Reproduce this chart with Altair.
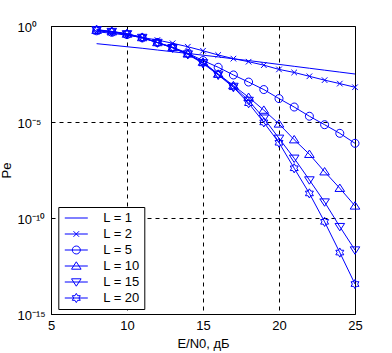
import altair as alt
import pandas as pd

# E/N0, dB
snr_db = list(range(8, 26))
series_names = ["L = 1", "L = 2", "L = 5", "L = 10", "L = 15", "L = 20"]

# log10(Pe), one value per E/N0 point
log_pe_L1 = [-0.92, -1.00, -1.08, -1.16, -1.25, -1.34, -1.43, -1.52, -1.61, -1.71,
             -1.80, -1.90, -2.00, -2.10, -2.20, -2.30, -2.40, -2.50]
log_pe_L2 = [-0.30, -0.38, -0.48, -0.60, -0.73, -0.90, -1.08, -1.29, -1.51, -1.70,
             -1.86, -2.04, -2.26, -2.42, -2.62, -2.82, -3.00, -3.19]
log_pe_L5 = [-0.25, -0.33, -0.45, -0.62, -0.86, -1.10, -1.42, -1.80, -2.15, -2.55,
             -2.92, -3.31, -3.78, -4.22, -4.70, -5.14, -5.59, -6.11]
log_pe_L10 = [-0.22, -0.30, -0.42, -0.60, -0.86, -1.12, -1.45, -1.88, -2.50, -3.10,
              -3.71, -4.38, -5.10, -5.92, -6.68, -7.59, -8.45, -9.37]
log_pe_L15 = [-0.20, -0.29, -0.41, -0.60, -0.86, -1.13, -1.46, -1.92, -2.52, -3.15,
              -3.88, -4.80, -5.85, -6.89, -8.02, -9.17, -10.45, -11.67]
log_pe_L20 = [-0.19, -0.28, -0.40, -0.60, -0.87, -1.14, -1.48, -1.95, -2.55, -3.19,
              -4.02, -5.02, -6.08, -7.41, -8.72, -10.20, -11.80, -13.44]

y_tick_values = [1e-15, 1e-10, 1e-5, 1]
x_tick_values = [5, 10, 15, 20, 25]

all_series = [log_pe_L1, log_pe_L2, log_pe_L5, log_pe_L10, log_pe_L15, log_pe_L20]
rows = []
for name, vals in zip(series_names, all_series):
    for x, v in zip(snr_db, vals):
        rows.append({"snr": x, "pe": 10 ** v, "L": name})
df = pd.DataFrame(rows)

BLUE = "#0000ff"
FONT = "Liberation Sans"

HEX = [(0, -1.15), (0.332, -0.575), (0.996, -0.575), (0.664, 0), (0.996, 0.575), (0.332, 0.575),
       (0, 1.15), (-0.332, 0.575), (-0.996, 0.575), (-0.664, 0), (-0.996, -0.575), (-0.332, -0.575)]

# marker paths for the plot (unit scale = 4 px)
plot_paths = [
    "M-1,0L1,0",
    "M-0.7,-0.7L0.7,0.7M-0.7,0.7L0.7,-0.7",
    "M-1,0A1,1,0,1,1,1,0A1,1,0,1,1,-1,0Z",
    "M0,-1.05L1.2,0.8L-1.2,0.8Z",
    "M0,1.05L1.2,-0.8L-1.2,-0.8Z",
    "M" + "L".join(f"{a},{b}" for a, b in HEX) + "Z",
]
# legend symbols: line sample + marker (unit scale = 6.5 px)
k = 4 / 6.5
def sc(v):
    return round(v * k, 3)
line_seg = "M-1.77,0L1.77,0"
legend_paths = [
    line_seg,
    line_seg + f"M{-sc(0.7)},{-sc(0.7)}L{sc(0.7)},{sc(0.7)}M{-sc(0.7)},{sc(0.7)}L{sc(0.7)},{-sc(0.7)}",
    line_seg + f"M{-sc(1)},0A{sc(1)},{sc(1)},0,1,1,{sc(1)},0A{sc(1)},{sc(1)},0,1,1,{-sc(1)},0Z",
    line_seg + f"M0,{-sc(1.05)}L{sc(1.2)},{sc(0.8)}L{-sc(1.2)},{sc(0.8)}Z",
    line_seg + f"M0,{sc(1.05)}L{sc(1.2)},{-sc(0.8)}L{-sc(1.2)},{-sc(0.8)}Z",
    line_seg + "M" + "L".join(f"{sc(a)},{sc(b)}" for a, b in HEX) + "Z",
]

x_enc = alt.X(
    "snr:Q",
    scale=alt.Scale(domain=[5, 25], nice=False, zero=False),
    axis=alt.Axis(
        values=x_tick_values, title="E/N0, дБ", labelFlush=False,
        labelPadding=5, titleY=33, titleBaseline="alphabetic",
    ),
)
y_enc = alt.Y(
    "pe:Q",
    scale=alt.Scale(type="log", domain=[1e-15, 1], nice=False),
    axis=alt.Axis(
        values=y_tick_values, title="Pe",
        labelExpr="datum.value >= 0.5 ? '10\u2070' : datum.value >= 1e-6 ? '10\u207b\u2075' : datum.value >= 1e-11 ? '10\u207b\u00b9\u2070' : '10\u207b\u00b9\u2075'",
        labelAlign="left", labelPadding=34, labelOffset=1, labelBaseline="middle",
        titleX=-41, titleY=144, titleAngle=270, titleAlign="center", titleBaseline="alphabetic",
    ),
)

base = alt.Chart(df)

lines = base.mark_line(color=BLUE, strokeWidth=1).encode(
    x=x_enc, y=y_enc, detail="L:N"
)

points = base.transform_filter("datum.L != 'L = 1'").mark_point(
    filled=False, color=BLUE, strokeWidth=1, size=64, opacity=1
).encode(
    x=x_enc, y=y_enc,
    shape=alt.Shape("L:N", scale=alt.Scale(domain=series_names, range=plot_paths), legend=None),
)

legend_layer = base.transform_filter("false").mark_point(
    filled=False, color=BLUE, strokeWidth=1, size=169, opacity=1
).encode(
    x=x_enc, y=y_enc,
    shape=alt.Shape(
        "L:N",
        scale=alt.Scale(domain=series_names, range=legend_paths),
        legend=alt.Legend(
            title=None, orient="none", legendX=7.3, legendY=181,
            padding=4, strokeColor="black", fillColor="white", cornerRadius=0,
            symbolOffset=7, labelOffset=20, rowPadding=2,
            symbolSize=169, symbolStrokeWidth=1, symbolStrokeColor=BLUE,
            symbolFillColor="transparent",
            labelFont=FONT, labelFontSize=13, labelColor="black",
            labelExpr="datum.label + '\u00a0\u00a0'",
        ),
    ),
)

chart = alt.layer(lines, points, legend_layer).resolve_scale(
    shape="independent"
).properties(
    width=304, height=288,
    autosize=alt.AutoSizeParams(type="none"),
    padding={"left": 51, "top": 26, "right": 37, "bottom": 39},
    background="white",
).configure_view(
    stroke="black", strokeWidth=1
).configure_axis(
    labelFont=FONT, labelFontSize=13, labelColor="black",
    titleFont=FONT, titleFontSize=13, titleFontWeight="normal", titleColor="black",
    domainColor="black", domainWidth=1, ticks=False, tickSize=0,
    grid=True, gridColor="black", gridDash=[4, 4], gridWidth=1, gridOpacity=1,
)

chart.save("out.html", embed_options={"renderer": "svg", "actions": False})
